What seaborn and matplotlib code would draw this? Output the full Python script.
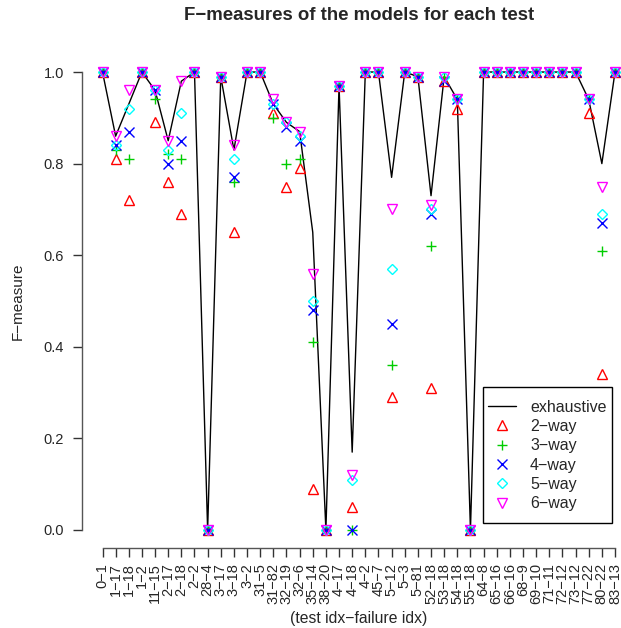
import numpy as np
import pandas as pd
import seaborn as sns
from matplotlib import pyplot as plt
from matplotlib.patches import Rectangle

# test idx - failure idx
tests = ['0-1', '1-17', '1-18', '1-2', '11-15', '2-17', '2-18', '2-2', '28-4', '3-17',
         '3-18', '3-2', '31-5', '31-82', '32-19', '32-6', '35-14', '38-20', '4-17', '4-18',
         '4-2', '45-7', '5-12', '5-3', '5-81', '52-18', '53-18', '54-18', '55-18', '64-8',
         '65-16', '66-16', '68-9', '69-10', '71-11', '72-12', '73-12', '77-22', '80-22', '83-13']

exhaustive = [1.0, 0.86, 0.93, 1.0, 0.96, 0.85, 0.98, 1.0, 0.0, 0.99,
              0.83, 1.0, 1.0, 0.93, 0.89, 0.87, 0.65, 0.0, 0.97, 0.17,
              1.0, 1.0, 0.77, 1.0, 0.99, 0.73, 0.99, 0.94, 0.0, 1.0,
              1.0, 1.0, 1.0, 1.0, 1.0, 1.0, 1.0, 0.94, 0.80, 1.0]
way2 = [1.0, 0.81, 0.72, 1.0, 0.89, 0.76, 0.69, 1.0, 0.0, 0.99,
        0.65, 1.0, 1.0, 0.91, 0.75, 0.79, 0.09, 0.0, 0.97, 0.05,
        1.0, 1.0, 0.29, 1.0, 0.99, 0.31, 0.98, 0.92, 0.0, 1.0,
        1.0, 1.0, 1.0, 1.0, 1.0, 1.0, 1.0, 0.91, 0.34, 1.0]
way3 = [1.0, 0.83, 0.81, 1.0, 0.94, 0.82, 0.81, 1.0, 0.0, 0.99,
        0.76, 1.0, 1.0, 0.90, 0.80, 0.81, 0.41, 0.0, 0.97, 0.0,
        1.0, 1.0, 0.36, 1.0, 0.99, 0.62, 0.99, 0.94, 0.0, 1.0,
        1.0, 1.0, 1.0, 1.0, 1.0, 1.0, 1.0, 0.94, 0.61, 1.0]
way4 = [1.0, 0.84, 0.87, 1.0, 0.96, 0.80, 0.85, 1.0, 0.0, 0.99,
        0.77, 1.0, 1.0, 0.93, 0.88, 0.85, 0.48, 0.0, 0.97, 0.0,
        1.0, 1.0, 0.45, 1.0, 0.99, 0.69, 0.98, 0.94, 0.0, 1.0,
        1.0, 1.0, 1.0, 1.0, 1.0, 1.0, 1.0, 0.94, 0.67, 1.0]
way5 = [1.0, 0.84, 0.92, 1.0, 0.96, 0.83, 0.91, 1.0, 0.0, 0.99,
        0.81, 1.0, 1.0, 0.93, 0.89, 0.86, 0.50, 0.0, 0.97, 0.11,
        1.0, 1.0, 0.57, 1.0, 0.99, 0.70, 0.99, 0.94, 0.0, 1.0,
        1.0, 1.0, 1.0, 1.0, 1.0, 1.0, 1.0, 0.94, 0.69, 1.0]
way6 = [1.0, 0.86, 0.96, 1.0, 0.96, 0.85, 0.98, 1.0, 0.0, 0.99,
        0.84, 1.0, 1.0, 0.94, 0.89, 0.87, 0.56, 0.0, 0.97, 0.12,
        1.0, 1.0, 0.70, 1.0, 0.99, 0.71, 0.99, 0.94, 0.0, 1.0,
        1.0, 1.0, 1.0, 1.0, 1.0, 1.0, 1.0, 0.94, 0.75, 1.0]

sns.set_style('white')
plt.rcParams['font.family'] = ['Liberation Sans', 'DejaVu Sans']

idx = np.arange(len(tests))
df = pd.DataFrame({'idx': idx, 'exhaustive': exhaustive, '2-way': way2, '3-way': way3,
                   '4-way': way4, '5-way': way5, '6-way': way6})

W, H = 621, 628
fig = plt.figure(figsize=(W / 100, H / 100), dpi=100)
ax = fig.add_axes([82 / W, 1 - 548.3 / H, 553.5 / W, 494.6 / H])

sns.lineplot(data=df, x='idx', y='exhaustive', color='black', lw=1, ax=ax, label='exhaustive')
styles = [('2-way', '^', '#FF0000'), ('3-way', '+', '#00CD00'), ('4-way', 'x', '#0000FF'),
          ('5-way', 'D', '#00FFFF'), ('6-way', 'v', '#FF00FF')]
for name, m, col in styles:
    ms = 5.5 if m == 'D' else 7
    sns.lineplot(data=df, x='idx', y=name, ax=ax, label=name.replace('-', '\u2212'),
                 linestyle='', marker=m, ms=ms, mfc='none', mec=col, color=col, mew=1)

ax.set_xlim(-1.56, 40.56)
ax.set_ylim(-0.04, 1.04)
for s in ['top', 'right']:
    ax.spines[s].set_visible(False)
ax.spines['left'].set_bounds(0, 1)
ax.spines['bottom'].set_bounds(0, len(tests) - 1)
for s in ['left', 'bottom']:
    ax.spines[s].set_color('#555555')
    ax.spines[s].set_linewidth(1)
ax.set_xticks(idx)
ax.set_xticklabels([t.replace('-', '\u2212') for t in tests], rotation=90, fontsize=10.5)
ax.set_yticks([0, 0.2, 0.4, 0.6, 0.8, 1.0])
ax.set_yticklabels(['0.0', '0.2', '0.4', '0.6', '0.8', '1.0'], fontsize=10.5)
ax.tick_params(axis='both', length=6.5, width=1, color='#333333', pad=4, bottom=True, left=True)
ax.tick_params(axis='y', pad=6.5)
ax.set_xlabel('')
ax.set_ylabel('')

fig.text(358.7 / W, 1 - 618 / H, '(test idx\u2212failure idx)', ha='center', va='center', fontsize=11.3)
fig.text(18 / W, 1 - 301 / H, 'F\u2212measure', ha='center', va='center', rotation=90, fontsize=11)
fig.text(358.7 / W, 1 - 16 / H, 'F\u2212measures of the models for each test',
         ha='center', va='center', fontsize=13.4, fontweight='bold')

# legend box like R's legend()
ax.add_patch(Rectangle((483 / W, 1 - 522.5 / H), 129 / W, 135.5 / H, transform=fig.transFigure,
                       clip_on=False, facecolor='white', edgecolor='black', lw=1, zorder=5))
leg = ax.legend(loc='center left', bbox_to_anchor=(488 / W, 1 - 455.5 / H), bbox_transform=fig.transFigure,
                borderaxespad=0, borderpad=0, frameon=False, fontsize=11.5, handlelength=1.75,
                labelspacing=0.27, handletextpad=0.88)
leg.set_zorder(6)

plt.savefig('out.png', dpi=100)
